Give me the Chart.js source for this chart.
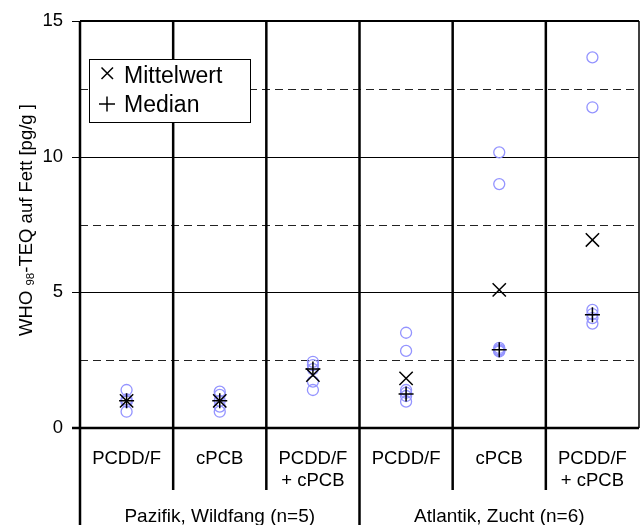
<!DOCTYPE html>
<html>
<head>
<meta charset="utf-8">
<script src="https://cdn.jsdelivr.net/npm/chart.js@4.4.1/dist/chart.umd.min.js"></script>
<style>
  html, body { margin: 0; padding: 0; background: #fff; }
  #c { display: block; }
</style>
</head>
<body>
<canvas id="c" width="640" height="525"></canvas>
<script>
/* ========= Data ========= */
const categoryLines = [["PCDD/F"], ["cPCB"], ["PCDD/F", "+ cPCB"], ["PCDD/F"], ["cPCB"], ["PCDD/F", "+ cPCB"]];
const groupLabels = ["Pazifik, Wildfang (n=5)", "Atlantik, Zucht (n=6)"];
const groupSpans = [[0, 3], [3, 6]];

// single samples per category (pg/g fat)
const samplesPazPCDD = [1.40, 1.05, 0.98, 0.97, 0.60];
const samplesPazPCB  = [1.34, 1.22, 1.00, 0.79, 0.60];
const samplesPazSum  = [2.44, 2.32, 2.17, 1.71, 1.40];
const samplesAtlPCDD = [3.51, 2.84, 1.40, 1.30, 1.18, 0.97];
const samplesAtlPCB  = [10.16, 8.99, 2.95, 2.90, 2.85, 2.82];
const samplesAtlSum  = [13.66, 11.82, 4.35, 4.20, 4.05, 3.85];
const samples = [samplesPazPCDD, samplesPazPCB, samplesPazSum, samplesAtlPCDD, samplesAtlPCB, samplesAtlSum];

const means   = [1.00, 1.00, 1.95, 1.83, 5.09, 6.93];
const medians = [1.00, 1.00, 2.17, 1.25, 2.88, 4.17];

const yMajorTicks = [0, 5, 10, 15];
const yGridSolid  = [5, 10];
const yGridDashed = [2.5, 7.5, 12.5];

const legendLabels = ["Mittelwert", "Median"];
const yTitleMain = "WHO ";
const yTitleSub = "98";
const yTitleRest = "-TEQ auf Fett [pg/g ]";

/* ========= Helpers ========= */
const FONT = '"Liberation Sans", Arial, sans-serif';

function samplePoints() {
  const pts = [];
  samples.forEach((list, i) => list.forEach(v => pts.push({ x: i + 0.5, y: v })));
  return pts;
}

/* ========= Plugin: frame, grid, labels, legend ========= */
const framePlugin = {
  id: "frame",
  beforeDatasetsDraw(chart) {
    const { ctx, chartArea: a, scales: { x, y } } = chart;
    ctx.save();
    ctx.strokeStyle = "#000";
    ctx.lineWidth = 1;
    yGridSolid.forEach(v => {
      const py = Math.round(y.getPixelForValue(v)) + 0.5;
      ctx.beginPath(); ctx.moveTo(a.left, py); ctx.lineTo(a.right, py); ctx.stroke();
    });
    ctx.setLineDash([8, 5]);
    ctx.strokeStyle = "#222";
    yGridDashed.forEach(v => {
      const py = Math.round(y.getPixelForValue(v)) + 0.5;
      ctx.beginPath(); ctx.moveTo(a.left, py); ctx.lineTo(a.right, py); ctx.stroke();
    });
    ctx.setLineDash([]);

    // tick marks
    ctx.strokeStyle = "#000";
    yMajorTicks.forEach(v => {
      const py = Math.round(y.getPixelForValue(v)) + 0.5;
      ctx.beginPath(); ctx.moveTo(a.left - 8, py); ctx.lineTo(a.left, py); ctx.stroke();
    });

    // top + right border
    ctx.lineWidth = 2;
    ctx.beginPath(); ctx.moveTo(a.left, a.top); ctx.lineTo(a.right, a.top); ctx.stroke();
    ctx.lineWidth = 1.5;
    ctx.beginPath(); ctx.moveTo(a.right, a.top); ctx.lineTo(a.right, a.bottom); ctx.stroke();

    // column separators
    ctx.lineWidth = 2.5;
    for (let i = 1; i < categoryLines.length; i++) {
      const px = x.getPixelForValue(i);
      const isGroup = groupSpans.some(g => g[0] === i);
      ctx.beginPath(); ctx.moveTo(px, a.top); ctx.lineTo(px, isGroup ? 525 : 490); ctx.stroke();
    }
    // left axis + bottom axis
    ctx.beginPath(); ctx.moveTo(a.left, a.top); ctx.lineTo(a.left, 525); ctx.stroke();
    ctx.beginPath(); ctx.moveTo(a.left - 8, a.bottom); ctx.lineTo(a.right, a.bottom); ctx.stroke();

    // category labels
    ctx.fillStyle = "#000";
    ctx.font = "18.5px " + FONT;
    ctx.textAlign = "center";
    ctx.textBaseline = "alphabetic";
    categoryLines.forEach((lines, i) => {
      const px = x.getPixelForValue(i + 0.5);
      lines.forEach((t, j) => ctx.fillText(t, px, 463.5 + j * 22));
    });
    ctx.font = "19px " + FONT;
    groupLabels.forEach((t, i) => {
      const px = (x.getPixelForValue(groupSpans[i][0]) + x.getPixelForValue(groupSpans[i][1])) / 2;
      ctx.fillText(t, px, 521.5);
    });

    // y axis title (rotated, with subscript)
    ctx.save();
    const mainFont = "18.5px " + FONT, subFont = "11.5px " + FONT;
    ctx.font = mainFont; const w1 = ctx.measureText(yTitleMain).width, w3 = ctx.measureText(yTitleRest).width;
    ctx.font = subFont; const w2 = ctx.measureText(yTitleSub).width;
    const total = w1 + w2 + w3;
    ctx.translate(32, 220);
    ctx.rotate(-Math.PI / 2);
    ctx.textAlign = "left";
    let sx = -total / 2;
    ctx.font = mainFont; ctx.fillText(yTitleMain, sx, 0); sx += w1;
    ctx.font = subFont; ctx.fillText(yTitleSub, sx, 1.5); sx += w2;
    ctx.font = mainFont; ctx.fillText(yTitleRest, sx, 0);
    ctx.restore();

    ctx.restore();
  },
  afterDraw(chart) {
    const { ctx } = chart;
    ctx.save();
    // legend box
    ctx.fillStyle = "#fff";
    ctx.fillRect(89.5, 59.5, 161, 63);
    ctx.strokeStyle = "#000";
    ctx.lineWidth = 1;
    ctx.strokeRect(89.5, 59.5, 161, 63);
    // symbols
    ctx.lineWidth = 1.5;
    ctx.beginPath();
    ctx.moveTo(101.5, 67.5); ctx.lineTo(113, 79);
    ctx.moveTo(113, 67.5); ctx.lineTo(101.5, 79);
    ctx.moveTo(99, 104); ctx.lineTo(115, 104);
    ctx.moveTo(107, 96.5); ctx.lineTo(107, 111.5);
    ctx.stroke();
    ctx.fillStyle = "#000";
    ctx.font = "23px " + FONT;
    ctx.textAlign = "left";
    ctx.textBaseline = "alphabetic";
    ctx.fillText(legendLabels[0], 124, 82.5);
    ctx.fillText(legendLabels[1], 124, 111.5);
    ctx.restore();
  }
};

/* ========= Chart ========= */
new Chart(document.getElementById("c").getContext("2d"), {
  type: "scatter",
  data: {
    datasets: [
      {
        label: "Einzelwerte",
        data: samplePoints(),
        pointStyle: "circle",
        pointRadius: 5.5,
        pointBorderColor: "#9494ff",
        pointBackgroundColor: "rgba(0,0,0,0)",
        pointBorderWidth: 1.3,
        order: 3
      },
      {
        label: legendLabels[0],
        data: means.map((v, i) => ({ x: i + 0.5, y: v })),
        pointStyle: "crossRot",
        pointRadius: 9.4,
        pointBorderColor: "#000",
        pointBorderWidth: 1.5,
        order: 2
      },
      {
        label: legendLabels[1],
        data: medians.map((v, i) => ({ x: i + 0.5, y: v })),
        pointStyle: "cross",
        pointRadius: 7.5,
        pointBorderColor: "#000",
        pointBorderWidth: 1.5,
        order: 1
      }
    ]
  },
  options: {
    responsive: false,
    animation: false,
    devicePixelRatio: 1,
    layout: { autoPadding: false, padding: { top: 21, right: 1, left: 0, bottom: 0 } },
    plugins: { legend: { display: false }, tooltip: { enabled: false } },
    scales: {
      x: {
        type: "linear", min: 0, max: categoryLines.length,
        ticks: { display: false },
        grid: { display: false, drawTicks: false },
        border: { display: false },
        afterFit: s => { s.height = 97; s.paddingLeft = 0; s.paddingRight = 0; }
      },
      y: {
        type: "linear", min: 0, max: 15,
        ticks: {
          stepSize: 5, padding: 17, color: "#000",
          font: { family: FONT, size: 18.5 }
        },
        grid: { display: false, drawTicks: false },
        border: { display: false },
        afterFit: s => { s.width = 80; s.paddingTop = 0; s.paddingBottom = 0; }
      }
    }
  },
  plugins: [framePlugin]
});
</script>
</body>
</html>
